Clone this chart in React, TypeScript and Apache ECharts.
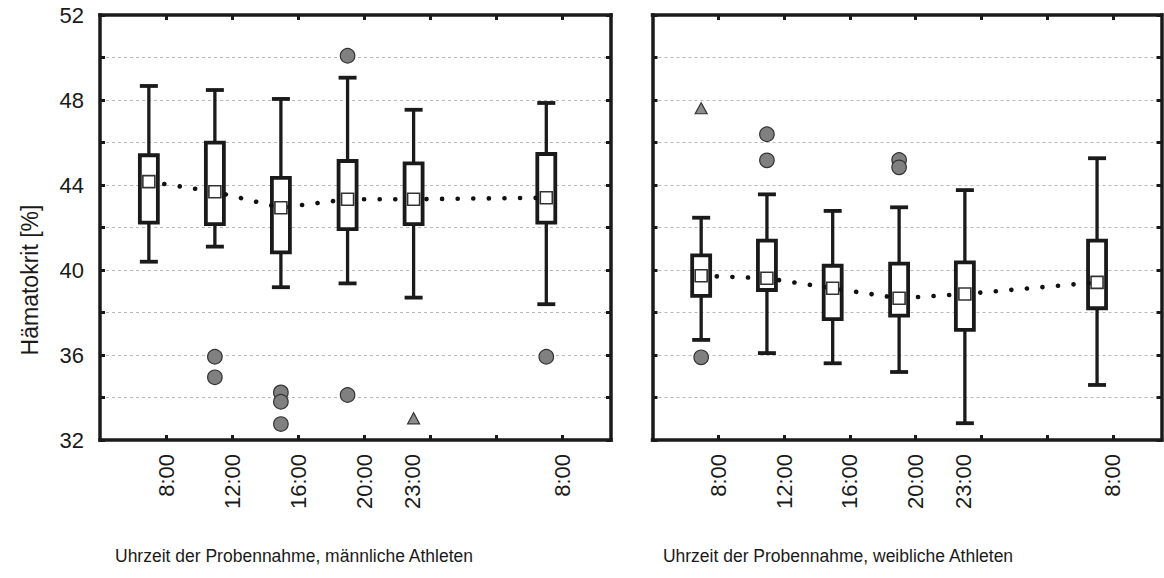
import React, { useEffect, useRef } from "react";
import * as echarts from "echarts";

// ---- data ----
const timeLabels = ["8:00", "12:00", "16:00", "20:00", "23:00", "8:00"];
const boxPositions = [0.74, 1.74, 2.74, 3.75, 4.75, 6.76];
const labelPositions = [1, 2, 3, 4, 4.73, 7];
const tickPositions = [1, 2, 3, 4, 5, 6, 7];
const yLabelValues = [32, 36, 40, 44, 48, 52];

// male athletes
const maleLow = [40.39, 41.1, 39.19, 39.37, 38.7, 38.39];
const maleQ1 = [42.23, 42.16, 40.83, 41.92, 42.16, 42.23];
const maleQ3 = [45.4, 45.99, 44.34, 45.13, 45.02, 45.46];
const maleHigh = [48.66, 48.47, 48.05, 49.05, 47.54, 47.86];
const maleMean = [44.16, 43.68, 42.93, 43.33, 43.33, 43.4];
// outliers: [group index, value]
const maleOutliers = [
  [1, 35.92], [1, 34.95],
  [2, 34.24], [2, 33.8], [2, 32.75],
  [3, 50.08], [3, 34.12],
  [5, 35.92],
];
const maleExtremes = [[4, 33.02]];

// female athletes
const femaleLow = [36.71, 36.09, 35.61, 35.2, 32.79, 34.59];
const femaleQ1 = [38.78, 39.06, 37.69, 37.85, 37.18, 38.2];
const femaleQ3 = [40.69, 41.38, 40.2, 40.3, 40.36, 41.38];
const femaleHigh = [42.46, 43.56, 42.78, 42.95, 43.76, 45.26];
const femaleMean = [39.73, 39.61, 39.14, 38.67, 38.87, 39.42];
const femaleOutliers = [
  [0, 35.89],
  [1, 46.39], [1, 45.16],
  [3, 45.18], [3, 44.83],
];
const femaleExtremes = [[0, 47.61]];

const yTitle = "Hämatokrit [%]";
const xTitleMale = "Uhrzeit der Probennahme, männliche Athleten";
const xTitleFemale = "Uhrzeit der Probennahme, weibliche Athleten";

const FONT = "'Liberation Sans', Arial, sans-serif";
const INK = "#1a1a1a";

function labelFor(v: number): string {
  for (let i = 0; i < labelPositions.length; i++) {
    if (Math.abs(labelPositions[i] - v) < 1e-6) return timeLabels[i];
  }
  return "";
}

function boxRows(low: number[], q1: number[], q3: number[], high: number[]) {
  return boxPositions.map((p, i) => [p, low[i], q1[i], q3[i], high[i]]);
}

function renderBox(params: any, api: any) {
  const x = api.value(0);
  const low = api.coord([x, api.value(1)]);
  const q1 = api.coord([x, api.value(2)]);
  const q3 = api.coord([x, api.value(3)]);
  const high = api.coord([x, api.value(4)]);
  const hw = 9;
  const cw = 9;
  const ls = { stroke: INK, lineWidth: 3.3, fill: null };
  return {
    type: "group",
    children: [
      { type: "line", shape: { x1: low[0], y1: low[1], x2: q1[0], y2: q1[1] }, style: ls },
      { type: "line", shape: { x1: q3[0], y1: q3[1], x2: high[0], y2: high[1] }, style: ls },
      { type: "line", shape: { x1: low[0] - cw, y1: low[1], x2: low[0] + cw, y2: low[1] }, style: { stroke: INK, lineWidth: 3.8 } },
      { type: "line", shape: { x1: high[0] - cw, y1: high[1], x2: high[0] + cw, y2: high[1] }, style: { stroke: INK, lineWidth: 3.8 } },
      {
        type: "rect",
        shape: { x: q3[0] - hw, y: q3[1], width: hw * 2, height: q1[1] - q3[1] },
        style: { fill: "#fff", stroke: INK, lineWidth: 3.8 },
      },
    ],
  };
}

const frameLine = { show: true, onZero: false, lineStyle: { color: INK, width: 3.5, cap: "square" } };

function xAxes(gridIndex: number, showLabels: boolean, position: string) {
  return {
    type: "value",
    gridIndex,
    position,
    min: 0,
    max: 7.74,
    interval: 1,
    axisLine: frameLine,
    axisTick: {
      show: true,
      inside: true,
      length: 5,
      customValues: tickPositions,
      lineStyle: { color: INK, width: 3 },
    },
    axisLabel: showLabels
      ? {
          show: true,
          rotate: 90,
          margin: 14,
          fontSize: 22,
          fontFamily: FONT,
          color: INK,
          customValues: labelPositions,
          formatter: (v: number) => labelFor(v),
        }
      : { show: false },
    splitLine: { show: false },
  };
}

function yAxes(gridIndex: number, showLabels: boolean, position: string) {
  return {
    type: "value",
    gridIndex,
    position,
    min: 32,
    max: 52,
    interval: 2,
    axisLine: frameLine,
    axisTick: { show: true, inside: true, length: 5, lineStyle: { color: INK, width: 3 } },
    axisLabel: showLabels
      ? {
          show: true,
          margin: 16,
          fontSize: 22,
          fontFamily: FONT,
          color: INK,
          customValues: yLabelValues,
        }
      : { show: false },
    splitLine: {
      show: position === "left",
      lineStyle: { color: "#b8b8b8", width: 1, type: [3, 3] },
    },
  };
}

function panelSeries(
  xi: number,
  yi: number,
  low: number[],
  q1: number[],
  q3: number[],
  high: number[],
  mean: number[],
  outliers: number[][],
  extremes: number[][]
) {
  return [
    {
      type: "custom",
      xAxisIndex: xi,
      yAxisIndex: yi,
      renderItem: renderBox,
      encode: { x: 0, y: [1, 2, 3, 4] },
      data: boxRows(low, q1, q3, high),
      z: 2,
      silent: true,
    },
    {
      type: "line",
      xAxisIndex: xi,
      yAxisIndex: yi,
      data: boxPositions.map((p, i) => [p, mean[i]]),
      symbol: "rect",
      symbolSize: 12,
      showAllSymbol: true,
      itemStyle: { color: "#fff", borderColor: "#333", borderWidth: 1.6 },
      lineStyle: { color: "#111", width: 4.6, type: [0.1, 15.5], cap: "round" },
      z: 3,
      silent: true,
    },
    {
      type: "scatter",
      xAxisIndex: xi,
      yAxisIndex: yi,
      data: outliers.map(([g, v]) => [boxPositions[g], v]),
      symbol: "circle",
      symbolSize: 14.5,
      itemStyle: { color: "#808080", borderColor: "#333", borderWidth: 1.2, opacity: 1 },
      z: 4,
      silent: true,
    },
    {
      type: "scatter",
      xAxisIndex: xi,
      yAxisIndex: yi,
      data: extremes.map(([g, v]) => [boxPositions[g], v]),
      symbol: "triangle",
      symbolSize: [12, 11],
      itemStyle: { color: "#8c8c8c", borderColor: "#333", borderWidth: 1.2, opacity: 1 },
      z: 4,
      silent: true,
    },
  ];
}

export default function App() {
  const ref = useRef<HTMLDivElement>(null);
  useEffect(() => {
    if (!ref.current) return;
    const chart = echarts.init(ref.current, null, { renderer: "svg" });
    const gridCommon = { show: false, top: 15, height: 425 };
    chart.setOption({
      animation: false,
      backgroundColor: "#fff",
      textStyle: { fontFamily: FONT },
      grid: [
        { ...gridCommon, left: 100, width: 511 },
        { ...gridCommon, left: 652.5, width: 509 },
      ],
      xAxis: [
        xAxes(0, true, "bottom"),
        xAxes(0, false, "top"),
        xAxes(1, true, "bottom"),
        xAxes(1, false, "top"),
      ],
      yAxis: [
        yAxes(0, true, "left"),
        yAxes(0, false, "right"),
        yAxes(1, false, "left"),
        yAxes(1, false, "right"),
      ],
      graphic: [
        {
          type: "text",
          x: 30,
          y: 280,
          rotation: Math.PI / 2,
          style: {
            text: yTitle,
            fontSize: 23,
            fontFamily: FONT,
            fill: INK,
            align: "center",
            verticalAlign: "middle",
          },
        },
        {
          type: "text",
          x: 294,
          y: 556,
          style: {
            text: xTitleMale,
            fontSize: 17.5,
            fontFamily: FONT,
            fill: INK,
            align: "center",
            verticalAlign: "middle",
          },
        },
        {
          type: "text",
          x: 838,
          y: 556,
          style: {
            text: xTitleFemale,
            fontSize: 17.5,
            fontFamily: FONT,
            fill: INK,
            align: "center",
            verticalAlign: "middle",
          },
        },
      ],
      series: [
        ...panelSeries(0, 0, maleLow, maleQ1, maleQ3, maleHigh, maleMean, maleOutliers, maleExtremes),
        ...panelSeries(2, 2, femaleLow, femaleQ1, femaleQ3, femaleHigh, femaleMean, femaleOutliers, femaleExtremes),
      ],
    });
    return () => chart.dispose();
  }, []);
  return (
    <div
      ref={ref}
      style={{ position: "fixed", left: 0, top: 0, width: 1164, height: 578, background: "#fff" }}
    />
  );
}
